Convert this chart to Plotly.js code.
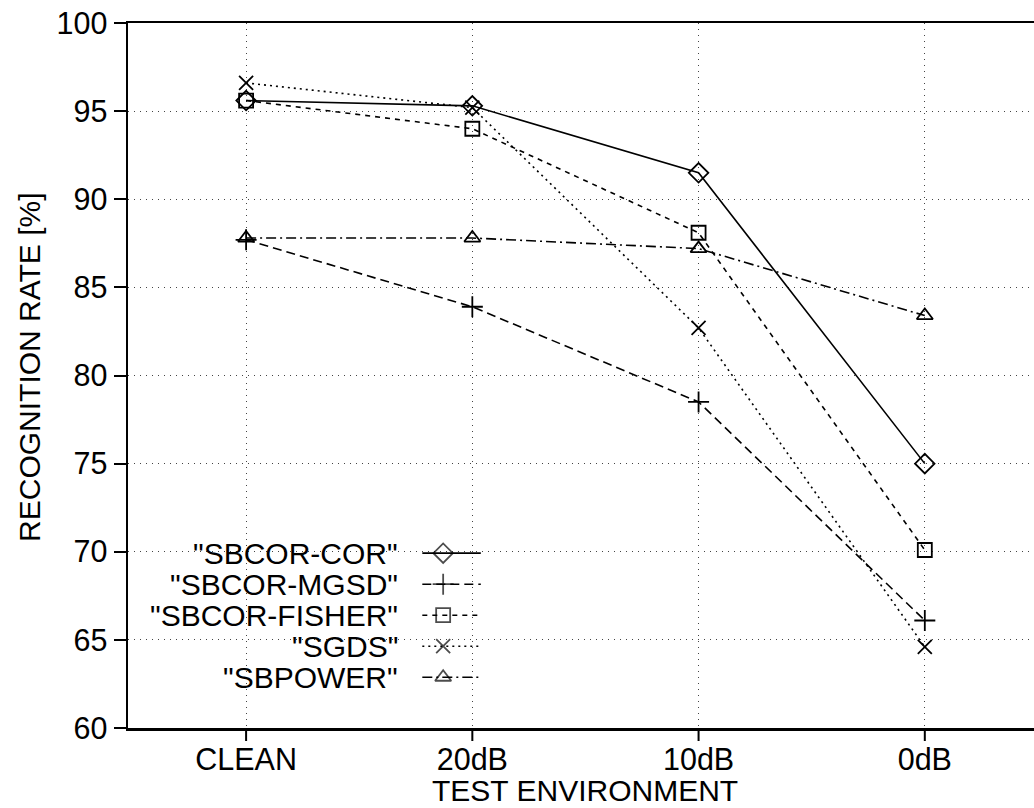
<!DOCTYPE html>
<html>
<head>
<meta charset="utf-8">
<script src="https://cdn.plot.ly/plotly-3.0.1.min.js"></script>
<style>
  html, body { margin: 0; padding: 0; background: #fff; overflow: hidden; }
  #chart { width: 1045px; height: 808px; }
</style>
</head>
<body>
<div id="chart"></div>
<script>
// Test environments (x categories)
const environments = ["CLEAN", "20dB", "10dB", "0dB"];

// Recognition rate [%] per method
const sbcorCor    = [95.6, 95.3, 91.5, 75.0];
const sbcorMgsd   = [87.7, 83.9, 78.5, 66.1];
const sbcorFisher = [95.6, 94.0, 88.1, 70.1];
const sgds        = [96.6, 95.2, 82.7, 64.6];
const sbpower     = [87.8, 87.8, 87.2, 83.4];

const seriesNames = ['"SBCOR-COR"', '"SBCOR-MGSD"', '"SBCOR-FISHER"', '"SGDS"', '"SBPOWER"'];
const seriesValues = [sbcorCor, sbcorMgsd, sbcorFisher, sgds, sbpower];

const yTicks = [60, 65, 70, 75, 80, 85, 90, 95, 100];

// Per-series styling: line dash + marker symbol
const styles = [
  { dash: "solid",              symbol: "diamond-open",     size: 15 },
  { dash: "9px,5px",            symbol: "cross-thin-open",  size: 15 },
  { dash: "5px,5px",            symbol: "square-open",      size: 14 },
  { dash: "2px,4px",            symbol: "x-thin-open",      size: 14 },
  { dash: "10px,4px,2px,4px",   symbol: "triangle-up-open", size: 14 }
];

const FONT = "Liberation Sans, Arial, Helvetica, sans-serif";
const PLOT_H = 808 - 23 - 80;   // plot area height in px
const X_RANGE = [-0.522, 3.518];
const xIndex = environments.map((_, i) => i);
const traces = [];

seriesValues.forEach((vals, k) => {
  traces.push({
    type: "scatter",
    mode: "lines+markers",
    name: seriesNames[k],
    x: xIndex,
    y: vals,
    line: { color: "#000", width: 1.6, dash: styles[k].dash },
    marker: { symbol: styles[k].symbol, size: styles[k].size, color: "#000",
              line: { color: "#000", width: 1.8 } },
    showlegend: false,
    hoverinfo: "x+y"
  });
});

// Key block: label on the left, line sample with marker on the right
const keyRows = [0.248, 0.204, 0.160, 0.116, 0.072];
const keyLineX = [0.322, 0.3448, 0.386];
const keyTextX = 0.298;
const annotations = [];

seriesNames.forEach((name, k) => {
  const ry = keyRows[k];
  traces.push({
    type: "scatter",
    mode: "lines+markers",
    xaxis: "x2",
    yaxis: "y2",
    x: keyLineX,
    y: [ry, ry, ry],
    line: { color: "#000", width: 1.6, dash: styles[k].dash },
    marker: { symbol: styles[k].symbol, size: [0, styles[k].size, 0], color: "#000",
              line: { color: "#000", width: 1.8 } },
    showlegend: false,
    hoverinfo: "skip"
  });
  annotations.push({
    xref: "paper", yref: "paper",
    x: keyTextX, y: ry,
    xanchor: "right", yanchor: "middle",
    text: name, showarrow: false,
    font: { family: FONT, size: 30, color: "#000" }
  });
});

// Axis titles
annotations.push({
  xref: "paper", yref: "paper",
  x: 0.5, y: -0.089,
  xanchor: "center", yanchor: "middle",
  text: "TEST ENVIRONMENT", showarrow: false,
  font: { family: FONT, size: 30, color: "#000" }
});
annotations.push({
  xref: "paper", yref: "paper",
  x: -0.107, y: 0.511,
  xanchor: "center", yanchor: "middle",
  textangle: -90,
  text: "RECOGNITION RATE [%]", showarrow: false,
  font: { family: FONT, size: 30, color: "#000" }
});

// Tick marks hanging below the category axis, one per category
const xTickMarks = xIndex.map(i => {
  const px = (i - X_RANGE[0]) / (X_RANGE[1] - X_RANGE[0]);
  return {
    type: "line", xref: "paper", yref: "paper", layer: "above",
    x0: px, x1: px, y0: 0, y1: -13 / PLOT_H,
    line: { color: "#000", width: 2 }
  };
});

const tickFont = { family: FONT, size: 30.5, color: "#000" };

const layout = {
  width: 1045,
  height: 808,
  margin: { l: 128, r: 3, t: 23, b: 80 },
  paper_bgcolor: "#fff",
  plot_bgcolor: "#fff",
  showlegend: false,
  font: tickFont,
  xaxis: {
    range: X_RANGE,
    tickmode: "array",
    tickvals: xIndex,
    ticktext: environments,
    ticks: "outside",
    ticklen: 3,
    tickwidth: 2,
    tickcolor: "rgba(0,0,0,0)",
    tickfont: tickFont,
    showline: true,
    linecolor: "#000",
    linewidth: 2.5,
    mirror: true,
    showgrid: true,
    gridcolor: "#444",
    gridwidth: 1,
    griddash: "1px,5px",
    zeroline: false,
    automargin: false
  },
  yaxis: {
    range: [60, 100],
    tickmode: "array",
    tickvals: yTicks,
    ticks: "outside",
    ticklen: 12,
    tickwidth: 2,
    tickcolor: "#000",
    tickfont: tickFont,
    showline: true,
    linecolor: "#000",
    linewidth: 2.5,
    mirror: true,
    showgrid: true,
    gridcolor: "#444",
    gridwidth: 1,
    griddash: "1px,5px",
    zeroline: false,
    automargin: false
  },
  xaxis2: { overlaying: "x", range: [0, 1], visible: false, fixedrange: true },
  yaxis2: { overlaying: "y", range: [0, 1], visible: false, fixedrange: true },
  shapes: xTickMarks,
  annotations: annotations
};

Plotly.newPlot("chart", traces, layout, { displayModeBar: false, staticPlot: true });
</script>
</body>
</html>
